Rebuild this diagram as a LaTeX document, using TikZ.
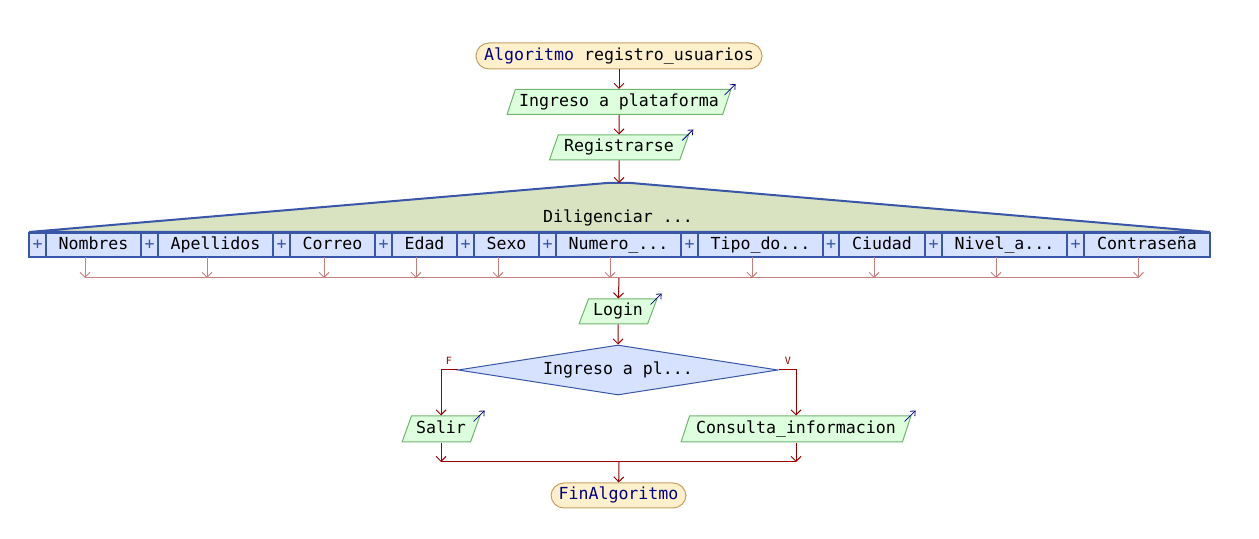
\documentclass[tikz,border=0pt]{standalone}
\usepackage{fontspec}
\setmonofont{DejaVu Sans Mono}
\usepackage{tikz}
\usetikzlibrary{arrows.meta}
\usetikzlibrary{shapes.geometric}
\definecolor{tfill}{HTML}{FFF0CC}
\definecolor{tline}{HTML}{C8A064}
\definecolor{kw}{HTML}{000080}
\definecolor{iofill}{HTML}{DDFFDD}
\definecolor{ioline}{HTML}{6FB46F}
\definecolor{trifill}{HTML}{D9E3C1}
\definecolor{bb}{HTML}{3A56A8}
\definecolor{cellfill}{HTML}{D6E2FF}
\definecolor{flowred}{HTML}{9B0000}
\definecolor{droprd}{HTML}{C88080}
\newcommand{\tdots}{...}
\tikzset{
	txt/.style={font=\ttfamily\fontsize{8.3}{10}\selectfont, text=black, text height=6pt, text depth=1.8pt},
	term/.style={txt, draw=tline, fill=tfill, rounded corners=6.5pt, minimum height=13pt, inner sep=0pt, line width=0.5pt},
	io/.style={txt, trapezium, trapezium left angle=63, trapezium right angle=117, trapezium stretches=true, draw=ioline, fill=iofill, minimum height=12.5pt, inner sep=0pt, line width=0.5pt},
	cellbox/.style={txt, draw=bb, fill=cellfill, line width=1pt, minimum height=12pt, inner sep=0pt},
	plusbox/.style={cellbox, text=bb},
	cond/.style={txt, diamond, aspect=6.4, draw=bb, fill=cellfill, minimum width=160pt, minimum height=25pt, inner sep=0pt, line width=0.5pt},
	flow/.style={draw=flowred, line width=0.5pt},
	drop/.style={draw=droprd, line width=0.5pt},
	tip/.tip={Straight Barb[length=2.5pt,width=5pt]},
	outmark/.style={draw=kw, line width=0.4pt, -{Straight Barb[length=2pt,width=3.5pt]}},
	branch/.style={font=\ttfamily\fontsize{5}{6}\selectfont, text=flowred, inner sep=0pt}
}
\begin{document}
\begin{tikzpicture}[x=0.5pt,y=-0.5pt, >=tip]
		\useasboundingbox (0,0) rectangle (1259,539);
		\node[term, minimum width=143pt] (ini) at (619,56) {{\color{kw}Algoritmo} registro\_usuarios};
		\node[io, minimum width=112pt] (ing) at (619,102) {Ingreso a plataforma};
		\node[io, minimum width=70pt] (reg) at (619,147.5) {Registrarse};
		\draw[flow,->] (ini) -- (ing);
		\draw[flow,->] (ing) -- (reg);
		%form
		\filldraw[fill=trifill, draw=bb, line width=1pt] (29,232) -- (607,183) -- (631,183) -- (1210,232) -- cycle;
		\coordinate (apex) at (619,183);
		\node[txt] (dil) at (618,218) {Diligenciar \tdots};
		\draw[flow,->] (reg) -- (apex);
		\coordinate (jn) at (619,278);
		\foreach \lbl/\xa/\xb/\xc [count=\i] in {Nombres/29/46/141, Apellidos/141/158/273, Correo/273/290/375, Edad/375/392/457, Sexo/457/474/539, Numero\_\tdots/539/556/681, Tipo\_do\tdots/681/698/823, Ciudad/823/839/925, Nivel\_a\tdots/925/942/1067, Contraseña/1067/1084/1210}
		{
		\node[plusbox, minimum width=(\xb-\xa)*0.5pt] (p\i) at ({(\xa+\xb)/2},245) {+};
		\node[cellbox, minimum width=(\xc-\xb)*0.5pt] (c\i) at ({(\xb+\xc)/2},245) {\lbl};
		\coordinate (d\i) at ({(\xa+\xc)/2},257);
		\draw[drop,->] (d\i) -- (d\i |- jn);
		}
		\draw[drop] (d1 |- jn) -- (d10 |- jn);
		\node[io, minimum width=39pt] (login) at (618,311.5) {Login};
		\draw[flow,->] (jn) -- (login);
		\node[cond] (dec) at (618,370) {Ingreso a pl\tdots};
		\draw[flow,->] (login) -- (dec);
		\node[io, minimum width=39pt, minimum height=13pt] (salir) at (441,429) {Salir};
		\node[io, minimum width=115pt, minimum height=13pt] (cons) at (796,429) {Consulta\_informacion};
		\draw[flow,->] (dec.west) -| (salir.north);
		\draw[flow,->] (dec.east) -| (cons.north);
		\node[branch] (f) at (449,361) {F};
		\node[branch] (v) at (788,361) {V};
		\coordinate (join) at (619,462);
		\node[term, minimum width=67.5pt, minimum height=12.5pt] (fin) at (618.5,495.5) {\color{kw}FinAlgoritmo};
		\draw[flow,->] (salir.south) -- (salir.south |- join);
		\draw[flow,->] (cons.south) -- (cons.south |- join);
		\draw[flow] (salir.south |- join) -- (cons.south |- join);
		\draw[flow,->] (join) -- (fin);
		%output marks
		\foreach \n in {ing, reg, login, salir, cons}
		\draw[outmark] ([shift={(-7,6)}]\n.top right corner) -- ++(11,-11);
		\end{tikzpicture}
\end{document}
